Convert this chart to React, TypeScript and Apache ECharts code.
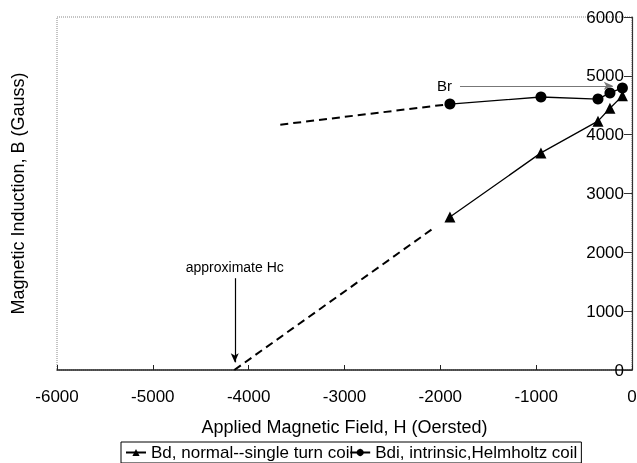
import React, { useEffect, useRef } from "react";
import * as echarts from "echarts";

const fieldH = [-1900, -950, -355, -230, -100];
const bdNormal = [2600, 3690, 4230, 4450, 4660];
const bdiIntrinsic = [4520, 4640, 4605, 4710, 4795];
const bdExtrapH = [-4150, -2080];
const bdExtrapB = [0, 2400];
const bdiExtrapH = [-3670, -1900];
const bdiExtrapB = [4170, 4520];
const xTicks = { min: -6000, max: 0, interval: 1000 };
const yTicks = { min: 0, max: 6000, interval: 1000 };
const brArrow = { fromH: -1795, toH: -200, b: 4830 };
const hcArrow = { h: -4145, fromB: 1560, toB: 130 };

const FONT = "Liberation Sans";

export default function App() {
  const ref = useRef<HTMLDivElement>(null);
  useEffect(() => {
    const chart = echarts.init(ref.current!, null, { renderer: "svg" });
    const pair = (xs: number[], ys: number[]) => xs.map((x, i) => [x, ys[i]]);
    chart.setOption({
      animation: false,
      textStyle: { fontFamily: FONT, color: "#000" },
      grid: {
        left: 57, right: 5, top: 17, bottom: 93,
        containLabel: false, outerBoundsMode: "none",
        show: true, borderColor: "#888", borderWidth: 1, borderType: "dotted",
      },
      legend: {
        top: 442, left: 121,
        data: ["Bd, normal--single turn coil", "Bdi, intrinsic,Helmholtz coil"],
        borderColor: "#000", borderWidth: 1, borderRadius: 0,
        padding: [2, 4, 2, 4], itemGap: -4, itemWidth: 20, itemHeight: 9,
        textStyle: { fontFamily: FONT, fontSize: 17, color: "#000" },
      },
      xAxis: {
        type: "value", ...xTicks,
        name: "Applied Magnetic Field, H (Oersted)", nameLocation: "middle", nameGap: 48,
        nameTextStyle: { fontFamily: FONT, fontSize: 18, color: "#000" },
        axisLine: { show: true, onZero: false, lineStyle: { color: "#222", width: 1.5 } },
        axisTick: { show: true, inside: true, length: 5, lineStyle: { color: "#222" } },
        axisLabel: { fontFamily: FONT, fontSize: 17, color: "#000", margin: 18, formatter: (v: number) => String(v) },
        splitLine: { show: false },
      },
      yAxis: [
        {
          type: "value", ...yTicks, position: "right",
          axisLine: { show: true, onZero: false, lineStyle: { color: "#333", width: 1.2 } },
          axisTick: { show: true, inside: true, length: 8, lineStyle: { color: "#333" } },
          axisLabel: { inside: true, fontFamily: FONT, fontSize: 17, color: "#000", margin: 8, formatter: (v: number) => String(v) },
          splitLine: { show: false },
        },
        {
          type: "value", ...yTicks, position: "left",
          name: "Magnetic Induction, B (Gauss)", nameLocation: "middle", nameGap: 30,
          nameTextStyle: { fontFamily: FONT, fontSize: 18, color: "#000" },
          axisLine: { show: false }, axisTick: { show: false }, axisLabel: { show: false },
          splitLine: { show: false },
        },
      ],
      series: [
        {
          name: "Bd, normal--single turn coil", type: "line",
          data: pair(fieldH, bdNormal), symbol: "triangle", symbolSize: 11,
          itemStyle: { color: "#000" }, lineStyle: { color: "#000", width: 1.3 },
        },
        {
          name: "Bdi, intrinsic,Helmholtz coil", type: "line",
          data: pair(fieldH, bdiIntrinsic), symbol: "circle", symbolSize: 11,
          itemStyle: { color: "#000" }, lineStyle: { color: "#000", width: 1.3 },
        },
        {
          name: "bdExtrap", type: "line", data: pair(bdExtrapH, bdExtrapB), symbol: "none",
          lineStyle: { color: "#000", width: 2, type: [8, 5] },
        },
        {
          name: "bdiExtrap", type: "line", data: pair(bdiExtrapH, bdiExtrapB), symbol: "none",
          lineStyle: { color: "#000", width: 2, type: [8, 5] },
        },
        {
          name: "annotations", type: "line", data: [], symbol: "none",
          markLine: {
            silent: true, symbol: ["none", "arrow"], symbolSize: [6, 9],
            data: [
              [
                {
                  coord: [brArrow.fromH, brArrow.b],
                  lineStyle: { color: "#777", width: 1.2, type: "solid" },
                  label: {
                    show: true, position: "start", formatter: "Br",
                    fontFamily: FONT, fontSize: 15, color: "#000", distance: 8,
                  },
                },
                { coord: [brArrow.toH, brArrow.b] },
              ],
              [
                {
                  coord: [hcArrow.h, hcArrow.fromB],
                  lineStyle: { color: "#000", width: 1.2, type: "solid" },
                  label: {
                    show: true, position: "start", formatter: "approximate Hc",
                    fontFamily: FONT, fontSize: 14, color: "#000", distance: 4,
                  },
                },
                { coord: [hcArrow.h, hcArrow.toB] },
              ],
            ],
          },
        },
      ],
    });
    return () => chart.dispose();
  }, []);
  return <div ref={ref} style={{ width: 637, height: 463, position: "fixed", left: 0, top: 0 }} />;
}
